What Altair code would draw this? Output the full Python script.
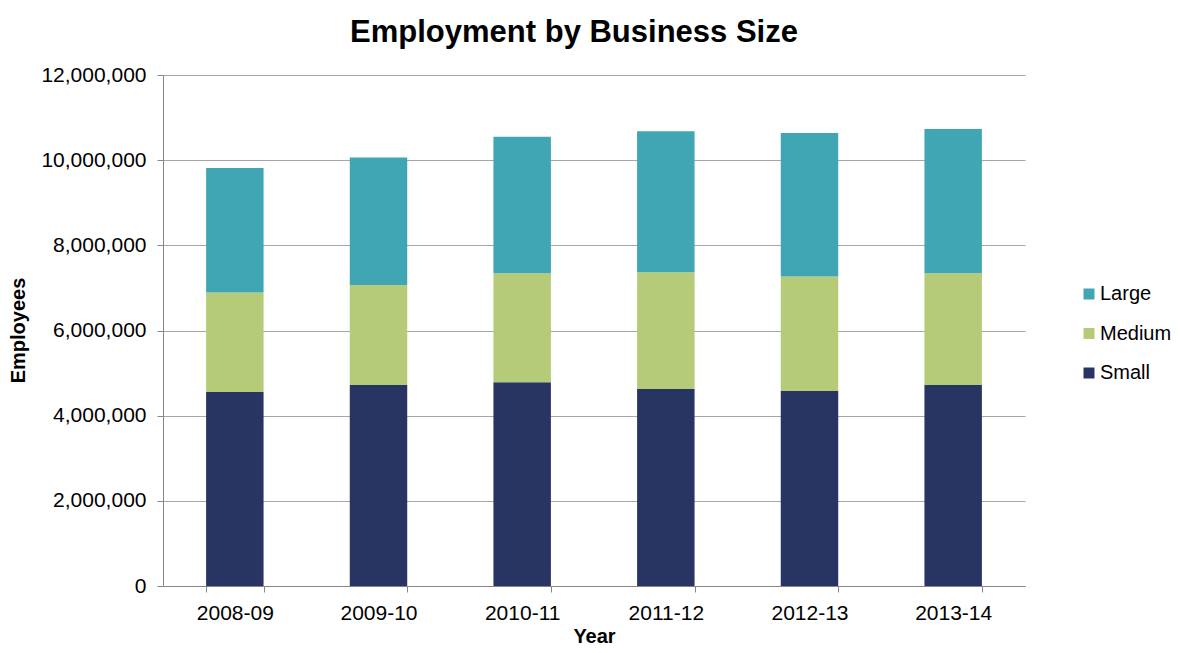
import altair as alt
import pandas as pd

years = ["2008-09", "2009-10", "2010-11", "2011-12", "2012-13", "2013-14"]
small = [4556000, 4720000, 4783000, 4626000, 4580000, 4720000]
medium = [2337000, 2350000, 2563000, 2744000, 2690000, 2626000]
large = [2922000, 2990000, 3204000, 3310000, 3370000, 3384000]

sizes = ["Large", "Medium", "Small"]
colors = ["#41A6B4", "#B5CB78", "#283563"]
stack_rank = {"Small": 0, "Medium": 1, "Large": 2}

rows = []
for i, y in enumerate(years):
    for name, series in (("Small", small), ("Medium", medium), ("Large", large)):
        rows.append({"Year": y, "Size": name, "Employees": series[i], "rank": stack_rank[name]})
df = pd.DataFrame(rows)

FONT = "Liberation Sans"

chart = (
    alt.Chart(df)
    .mark_bar()
    .encode(
        x=alt.X(
            "Year:N",
            sort=years,
            title="Year",
            scale=alt.Scale(paddingInner=0.6, paddingOuter=0.3),
            axis=alt.Axis(
                labelAngle=0,
                tickBand="extent",
                tickSize=6,
                labelPadding=10,
                titleY=56,
                titleBaseline="alphabetic",
            ),
        ),
        y=alt.Y(
            "Employees:Q",
            title="Employees",
            scale=alt.Scale(domain=[0, 12000000]),
            stack="zero",
            axis=alt.Axis(
                values=[0, 2000000, 4000000, 6000000, 8000000, 10000000, 12000000],
                format=",d",
                tickSize=6,
                labelPadding=11,
                titleX=-145,
                titleY=255,
                titleAngle=270,
                titleAlign="center",
                titleBaseline="middle",
            ),
        ),
        color=alt.Color(
            "Size:N",
            scale=alt.Scale(domain=sizes, range=colors),
            legend=alt.Legend(
                title=None,
                orient="none",
                legendX=916,
                legendY=209,
                symbolType="square",
                symbolSize=121,
                symbolStrokeWidth=0,
                labelFontSize=20,
                labelFont=FONT,
                labelColor="#000000",
                labelOffset=1,
                rowPadding=19.5,
                padding=0,
            ),
        ),
        order=alt.Order("rank:Q", sort="ascending"),
    )
    .properties(
        width=862,
        height=511,
        title=alt.TitleParams(
            "Employment by Business Size",
            font=FONT,
            fontSize=31,
            fontWeight="bold",
            color="#000000",
            anchor="middle",
            dx=-20,
            dy=-11,
        ),
        autosize=alt.AutoSizeParams(type="none"),
        padding={"left": 155, "top": 67, "right": 148, "bottom": 59},
    )
    .configure_view(stroke=None)
    .configure_axis(
        labelFont=FONT,
        labelFontSize=21,
        labelColor="#000000",
        titleFont=FONT,
        titleFontSize=20,
        titleFontWeight="bold",
        titleColor="#000000",
        domainColor="#868686",
        tickColor="#868686",
        gridColor="#A6A6A6",
        gridWidth=1,
    )
    .configure_axisX(grid=False)
)

chart.save("out.html", embed_options={"renderer": "svg", "actions": False})
